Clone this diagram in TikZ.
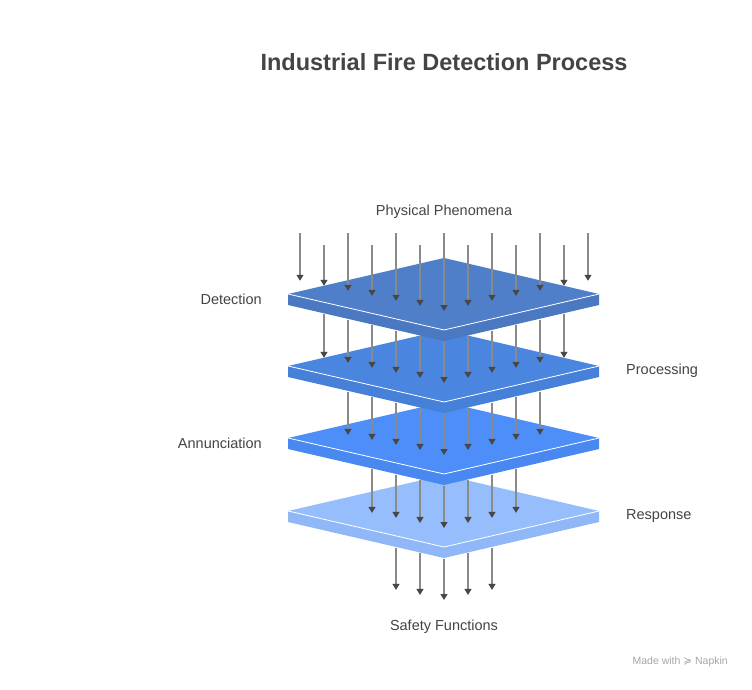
\documentclass[tikz,border=0pt]{standalone}
\usepackage{fontspec}
\setmainfont{Liberation Sans}
\newfontfamily\djv{DejaVu Sans}
\usetikzlibrary{arrows.meta}
\definecolor{tA}{HTML}{4F7FC9}\definecolor{sA}{HTML}{4A79C2}
\definecolor{tB}{HTML}{4A86E0}\definecolor{sB}{HTML}{4680D8}
\definecolor{tC}{HTML}{4D8EF8}\definecolor{sC}{HTML}{4988F0}
\definecolor{tD}{HTML}{97BEFC}\definecolor{sD}{HTML}{90B8F8}
\definecolor{shaft}{HTML}{8A8A8A}\definecolor{head}{HTML}{474747}
\definecolor{txt}{HTML}{444444}
\begin{document}
\begin{tikzpicture}[x=1pt,y=-1pt,
  lbl/.style={text=txt,font=\fontsize{14.5}{16}\selectfont,inner sep=0pt},
  arr/.style={draw=shaft,line width=1.2pt,-{Triangle[length=6pt,width=7pt,color=head]}}]
\useasboundingbox[fill=white] (0,0) rectangle (752,690);
\newcommand{\plate}[3]{%
  \fill[#3] (288,#1)--(444,#1+36)--(599,#1)--(599,#1+11)--(444,#1+47)--(288,#1+11)--cycle;
  \fill[#2] (288,#1)--(444,#1-36)--(599,#1)--(444,#1+36)--cycle;
  \draw[white,line width=0.8pt] (288,#1)--(444,#1+36)--(599,#1);}
\plate{511}{tD}{sD}
\plate{438}{tC}{sC}
\plate{366}{tB}{sB}
\plate{294}{tA}{sA}
% top arrows
\foreach \i in {0,...,12}{
  \pgfmathsetmacro\x{300+24*\i}
  \pgfmathsetmacro\s{mod(\i,2)==0?233:245}
  \pgfmathsetmacro\t{311-abs(\x-444)*0.21}
  \draw[arr] (\x,\s)--(\x,\t);}
% between layers
\foreach \cp/\cn/\n in {294/366/5,366/438/4,438/511/3,511/583/2}{
  \foreach \k in {-\n,...,\n}{
    \pgfmathsetmacro\x{444+24*\k}
    \pgfmathsetmacro\s{\cp+12+36*(1-abs(\x-444)/155)}
    \pgfmathsetmacro\t{\cn+17-abs(\x-444)*0.21}
    \draw[arr] (\x,\s)--(\x,\t);}}
\node[text=txt,font=\bfseries\fontsize{23.5}{26}\selectfont] (title) at (444,62) {Industrial Fire Detection Process};
\node[lbl] (pp) at (444,212) {Physical Phenomena};
\node[lbl,anchor=east] (det) at (262,299) {Detection};
\node[lbl,anchor=west] (pro) at (626,371) {Processing};
\node[lbl,anchor=east] (ann) at (262,443) {Annunciation};
\node[lbl,anchor=west] (res) at (626,516) {Response};
\node[lbl] (sf) at (444,627) {Safety Functions};
\node[text=gray!70,font=\fontsize{10.5}{12}\selectfont,anchor=east,inner sep=0pt] (nap) at (728,662) {Made with {\djv ≽} Napkin};
\end{tikzpicture}
\end{document}
